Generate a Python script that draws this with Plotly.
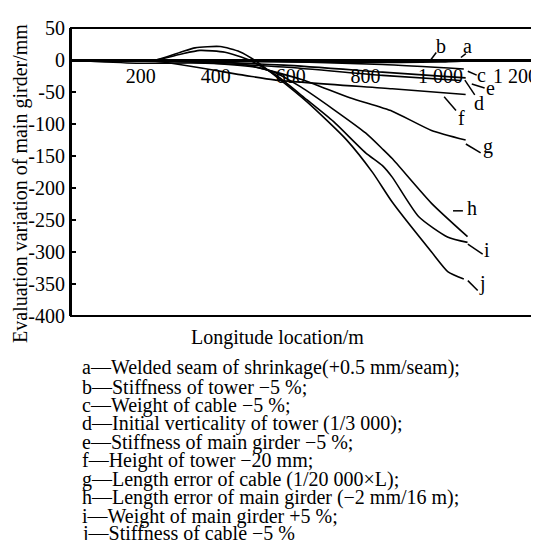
import plotly.graph_objects as go

# ---------------- data ----------------
x_a = [0, 300, 700, 1000, 1125]
y_a = [0, -1, -2, -1.5, 0]

x_b = [0, 400, 800, 1000, 1085]
y_b = [0, -2, -4, -3, -1]

x_c = [0, 555, 845, 1062]
y_c = [0, -2, -7, -14]

x_d = [0, 240, 582, 845, 1054]
y_d = [0, -1, -11, -24, -32]

x_e = [0, 240, 582, 845, 1067]
y_e = [0, -1, -8, -19, -28]

x_f = [0, 240, 477, 556, 871, 1067]
y_f = [0, -2, -24, -31, -45, -54]

x_g = [0, 188, 372, 503, 627, 758, 871, 976, 1067]
y_g = [0, -5, -5, -11, -30, -59, -80, -110, -125]

x_h = [0, 372, 477, 556, 627, 714, 800, 845, 871, 976, 1072]
y_h = [0, -1, -7, -19, -42, -77, -114, -139, -154, -224, -276]

x_i = [0, 240, 306, 358, 425, 490, 564, 643, 714, 800, 845, 871, 942, 1020, 1072]
y_i = [0, 0, 9, 15, 12, 0, -25, -62, -96, -145, -165, -183, -245, -277, -285]

x_j = [0, 240, 306, 345, 412, 464, 503, 564, 643, 748, 819, 871, 976, 1020, 1062]
y_j = [0, 0, 12, 19, 21, 13, 0, -27, -65, -124, -176, -222, -300, -331, -342]

series_names = ["a", "b", "c", "d", "e", "f", "g", "h", "i", "j"]
series_x = [x_a, x_b, x_c, x_d, x_e, x_f, x_g, x_h, x_i, x_j]
series_y = [y_a, y_b, y_c, y_d, y_e, y_f, y_g, y_h, y_i, y_j]

x_tick_vals = [200, 400, 600, 800, 1000, 1200]
x_tick_text = ["200", "400", "600", "800", "1 000", "1 200"]
y_tick_vals = [50, 0, -50, -100, -150, -200, -250, -300, -350, -400]
y_tick_text = ["50", "0", "-50", "-100", "-150", "-200", "-250", "-300", "-350", "-400"]

legend_lines = [
    "a\u2014Welded seam of shrinkage(+0.5 mm/seam);",
    "b\u2014Stiffness of tower \u22125 %;",
    "c\u2014Weight of cable \u22125 %;",
    "d\u2014Initial verticality of tower (1/3 000);",
    "e\u2014Stiffness of main girder \u22125 %;",
    "f\u2014Height of tower \u221220 mm;",
    "g\u2014Length error of cable (1/20 000\u00d7L);",
    "h\u2014Length error of main girder (\u22122 mm/16 m);",
    "i\u2014Weight of main girder +5 %;",
    "j\u2014Stiffness of cable \u22125 %",
]

y_title = "Evaluation variation of main girder/mm"
x_title = "Longitude location/m"

# ---------------- layout helpers (pixel placement) ----------------
W, H = 539, 540
L, R, T, B = 63, 9, 15, 232
PW, PH = W - L - R, H - T - B
FONT = "Liberation Serif"
FS = 20


def px_x(px):
    return (px - L) / PW


def px_y(py):
    return (H - B - py) / PH


# label letter positions (center x, baseline y) in pixels
label_pos = [(465, 40), (438, 40), (479, 70), (476, 98), (488, 83),
             (459, 113), (485, 142), (469, 205), (484, 248), (480, 282)]
# leader segments in pixels
leaders = [(458, 45, 463, 41), (427, 48, 433, 40), (465, 59, 474, 63),
           (462, 68, 472, 83), (469, 72, 482, 76), (441, 85, 453, 99),
           (463, 133, 478, 142), (450, 201, 460, 201), (465, 235, 480, 245),
           (465, 272, 475, 282)]

fig = go.Figure()
for name, xs, ys in zip(series_names, series_x, series_y):
    fig.add_trace(go.Scatter(x=xs, y=ys, mode="lines", name=name,
                             line=dict(color="black", width=1.6, shape="spline", smoothing=0.6),
                             showlegend=False, hoverinfo="skip"))

annotations = []
for (name, (cx, base)) in zip(series_names, label_pos):
    annotations.append(dict(text=name, x=px_x(cx), y=px_y(base - 0.3375 * FS),
                            xref="paper", yref="paper", showarrow=False,
                            xanchor="center", yanchor="middle",
                            font=dict(family=FONT, size=FS, color="black")))

legend_base = [367.5, 387.3, 405.8, 424.4, 443.1, 461.8, 480.6, 499.6, 518.3, 536.5]
for line, base in zip(legend_lines, legend_base):
    annotations.append(dict(text=line, x=px_x(72), y=px_y(base - 0.3375 * FS),
                            xref="paper", yref="paper", showarrow=False,
                            xanchor="left", yanchor="middle",
                            font=dict(family=FONT, size=FS, color="black")))

annotations.append(dict(text=y_title, x=px_x(12), y=px_y(173), xref="paper", yref="paper",
                        showarrow=False, textangle=-90, xanchor="center", yanchor="middle",
                        font=dict(family=FONT, size=FS, color="black")))
annotations.append(dict(text=x_title, x=px_x(272), y=px_y(330), xref="paper", yref="paper",
                        showarrow=False, xanchor="center", yanchor="middle",
                        font=dict(family=FONT, size=FS, color="black")))

shapes = [dict(type="rect", xref="paper", yref="paper", x0=0, x1=1, y0=0, y1=1,
               line=dict(color="black", width=2), layer="above")]
for (x0, y0, x1, y1) in leaders:
    shapes.append(dict(type="line", xref="paper", yref="paper",
                       x0=px_x(x0), y0=px_y(y0), x1=px_x(x1), y1=px_y(y1),
                       line=dict(color="black", width=1.5)))

y_lo, y_hi = -400, 50
fig.update_layout(
    width=W, height=H,
    margin=dict(l=L, r=R, t=T, b=B, pad=0),
    paper_bgcolor="white", plot_bgcolor="white",
    font=dict(family=FONT, size=FS, color="black"),
    xaxis=dict(range=[14, 1244], tickvals=x_tick_vals, ticktext=x_tick_text,
               showgrid=False, zeroline=False, showline=True, linecolor="black", linewidth=2.5,
               anchor="free", position=(0 - y_lo) / (y_hi - y_lo),
               ticks="", ticklabelstandoff=-3, ticklabeloverflow="allow",
               tickfont=dict(family=FONT, size=FS, color="black")),
    yaxis=dict(range=[y_lo, y_hi], tickvals=y_tick_vals, ticktext=y_tick_text,
               showgrid=False, zeroline=False, showline=True, linecolor="black", linewidth=2,
               ticks="inside", ticklen=5, tickwidth=2, tickcolor="black",
               ticklabeloverflow="allow",
               tickfont=dict(family=FONT, size=FS, color="black")),
    annotations=annotations,
    shapes=shapes,
)

fig.write_html("out.html")
